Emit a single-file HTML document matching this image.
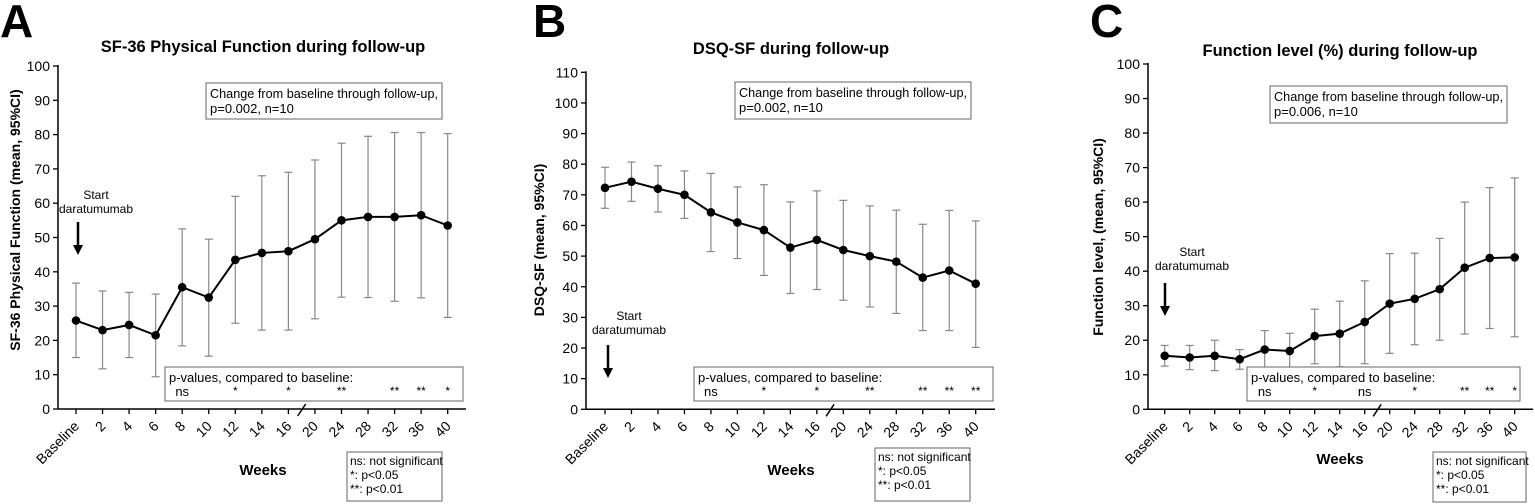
<!DOCTYPE html>
<html><head><meta charset="utf-8"><style>
body{margin:0;background:#fff}
svg{display:block;font-family:"Liberation Sans",Arial,sans-serif}
</style></head><body>
<svg id="s" width="1535" height="504" xmlns="http://www.w3.org/2000/svg"></svg>
<script>
const labels=["Baseline","2","4","6","8","10","12","14","16","20","24","28","32","36","40"];
const P=[
{L:"A",lx:0,title:"SF-36 Physical Function during follow-up",tx:263,ty:52,ax:58,ymax:100,yt:66,y0:409,x0:76,dx:26.55,xend:466,
 ylab:"SF-36 Physical Function (mean, 95%CI)",ylx:20,yly:220,
 d:[[25.8,15,36.7],[23,11.7,34.4],[24.5,15,34],[21.5,9.4,33.5],[35.5,18.4,52.5],[32.5,15.4,49.5],[43.5,25,62],[45.5,23,68],[46,23,69],[49.5,26.3,72.6],[55,32.6,77.5],[56,32.5,79.5],[56,31.4,80.6],[56.5,32.4,80.6],[53.5,26.7,80.3]],
 cb:[206,83,236,36],pv:"0.002",pb:[165,367,298,34],sig:[[4,"ns"],[6,"*"],[8,"*"],[10,"**"],[12,"**"],[13,"**"],[14,"*"]],
 lg:[347,452,95,49],arx:78,sty:199,ar:[222,255],stx:96,wk:[263,475]},
{L:"B",lx:533,title:"DSQ-SF during follow-up",tx:791,ty:54,ax:586,ymax:110,yt:72.3,y0:409.3,x0:605,dx:26.48,xend:995,
 ylab:"DSQ-SF (mean, 95%CI)",ylx:544,yly:240,
 d:[[72.3,65.6,79],[74.3,67.9,80.7],[72,64.4,79.5],[70,62.3,77.8],[64.3,51.5,77],[61,49.2,72.6],[58.5,43.7,73.3],[52.8,37.8,67.7],[55.3,39.1,71.3],[52,35.6,68.2],[50,33.4,66.4],[48.2,31.3,65],[43,25.7,60.4],[45.3,25.7,64.9],[41,20.2,61.5]],
 cb:[735,82,236,37],pv:"0.002",pb:[694,367,299,34],sig:[[4,"ns"],[6,"*"],[8,"*"],[10,"**"],[12,"**"],[13,"**"],[14,"**"]],
 lg:[875,448,95,53],arx:608,sty:320,ar:[345,378],stx:629,wk:[791,475]},
{L:"C",lx:1090,title:"Function level (%) during follow-up",tx:1340,ty:56,ax:1148,ymax:100,yt:64,y0:409.3,x0:1164.7,dx:25,xend:1533,
 ylab:"Function level, (mean, 95%CI)",ylx:1103,yly:237,
 d:[[15.5,12.5,18.5],[15,11.5,18.5],[15.5,11.2,20],[14.5,11.6,17.3],[17.3,11.8,22.8],[16.9,11.6,22],[21.2,13.2,29],[21.9,12.3,31.3],[25.3,13.2,37.2],[30.6,16.2,45.1],[32,18.7,45.2],[34.8,20,49.5],[41,21.8,60],[43.8,23.4,64.2],[44,21,67]],
 cb:[1270,86,237,37],pv:"0.006",pb:[1247,367,273,34],sig:[[4,"ns"],[6,"*"],[8,"ns"],[10,"*"],[12,"**"],[13,"**"],[14,"*"]],
 lg:[1433,452,93,50],arx:1165,sty:256,ar:[283,316],stx:1192,wk:[1340,464]}
];
let h="";
for(const p of P){
 const sy=v=>p.y0-(p.y0-p.yt)*v/p.ymax, sx=i=>p.x0+i*p.dx;
 h+=`<text x="${p.lx}" y="37" font-size="46" font-weight="bold">${p.L}</text>`;
 h+=`<text x="${p.tx}" y="${p.ty}" font-size="16.5" font-weight="bold" text-anchor="middle">${p.title}</text>`;
 h+=`<line x1="${p.ax}" y1="${p.yt-1}" x2="${p.ax}" y2="${p.y0}" stroke="#000" stroke-width="1.5"/>`;
 h+=`<line x1="${p.ax}" y1="${p.y0}" x2="${p.xend}" y2="${p.y0}" stroke="#000" stroke-width="1.5"/>`;
 for(let v=0;v<=p.ymax;v+=10){const y=sy(v);h+=`<line x1="${p.ax-5}" y1="${y}" x2="${p.ax}" y2="${y}" stroke="#000" stroke-width="1.3"/><text x="${p.ax-8}" y="${y+5}" font-size="14" text-anchor="end">${v}</text>`;}
 labels.forEach((l,i)=>{const x=sx(i);h+=`<line x1="${x}" y1="${p.y0}" x2="${x}" y2="${p.y0+5}" stroke="#000" stroke-width="1.3"/><text transform="translate(${x+4},${p.y0+18}) rotate(-45)" font-size="14" text-anchor="end">${l}</text>`;});
 const bx=(sx(8)+sx(9))/2;h+=`<line x1="${bx-4}" y1="${p.y0+7}" x2="${bx+4}" y2="${p.y0-5}" stroke="#000" stroke-width="1.5"/>`;
 h+=`<text transform="translate(${p.ylx},${p.yly}) rotate(-90)" font-size="14" font-weight="bold" text-anchor="middle">${p.ylab}</text>`;
 h+=`<text x="${p.wk[0]}" y="${p.wk[1]}" font-size="15" font-weight="bold" text-anchor="middle">Weeks</text>`;
 p.d.forEach((d,i)=>{const x=sx(i);h+=`<g stroke="#888" stroke-width="1.2"><line x1="${x}" y1="${sy(d[1])}" x2="${x}" y2="${sy(d[2])}"/><line x1="${x-4}" y1="${sy(d[1])}" x2="${x+4}" y2="${sy(d[1])}"/><line x1="${x-4}" y1="${sy(d[2])}" x2="${x+4}" y2="${sy(d[2])}"/></g>`;});
 h+=`<polyline fill="none" stroke="#000" stroke-width="2" points="${p.d.map((d,i)=>sx(i)+","+sy(d[0])).join(" ")}"/>`;
 p.d.forEach((d,i)=>{h+=`<circle cx="${sx(i)}" cy="${sy(d[0])}" r="4.3" fill="#000"/>`;});
 const c=p.cb;h+=`<rect x="${c[0]}" y="${c[1]}" width="${c[2]}" height="${c[3]}" fill="#fff" stroke="#666"/><text x="${c[0]+4}" y="${c[1]+15}" font-size="13" textLength="${c[2]-8}" lengthAdjust="spacingAndGlyphs">Change from baseline through follow-up,</text><text x="${c[0]+4}" y="${c[1]+30}" font-size="13">p=${p.pv}, n=10</text>`;
 const b=p.pb;h+=`<rect x="${b[0]}" y="${b[1]}" width="${b[2]}" height="${b[3]}" fill="#fff" stroke="#666"/><text x="${b[0]+4}" y="${b[1]+15}" font-size="13">p-values, compared to baseline:</text>`;
 p.sig.forEach(s=>{const x=sx(s[0]);h+= s[1]=="ns"?`<text x="${x}" y="${b[1]+29}" font-size="13" text-anchor="middle">ns</text>`:`<text x="${x}" y="${b[1]+28}" font-size="12" text-anchor="middle">${s[1]}</text>`;});
 const g=p.lg;h+=`<rect x="${g[0]}" y="${g[1]}" width="${g[2]}" height="${g[3]}" fill="#fff" stroke="#666"/><text x="${g[0]+3}" y="${g[1]+13}" font-size="12">ns: not significant</text><text x="${g[0]+3}" y="${g[1]+27}" font-size="12">*: p&lt;0.05</text><text x="${g[0]+3}" y="${g[1]+41}" font-size="12">**: p&lt;0.01</text>`;
 h+=`<text x="${p.stx}" y="${p.sty}" font-size="12" text-anchor="middle">Start</text><text x="${p.stx}" y="${p.sty+14}" font-size="12" text-anchor="middle">daratumumab</text>`;
 h+=`<line x1="${p.arx}" y1="${p.ar[0]}" x2="${p.arx}" y2="${p.ar[1]-8}" stroke="#000" stroke-width="2.5"/><polygon points="${p.arx-5},${p.ar[1]-10} ${p.arx+5},${p.ar[1]-10} ${p.arx},${p.ar[1]}" fill="#000"/>`;
}
document.getElementById("s").innerHTML=h;
</script>
</body></html>
